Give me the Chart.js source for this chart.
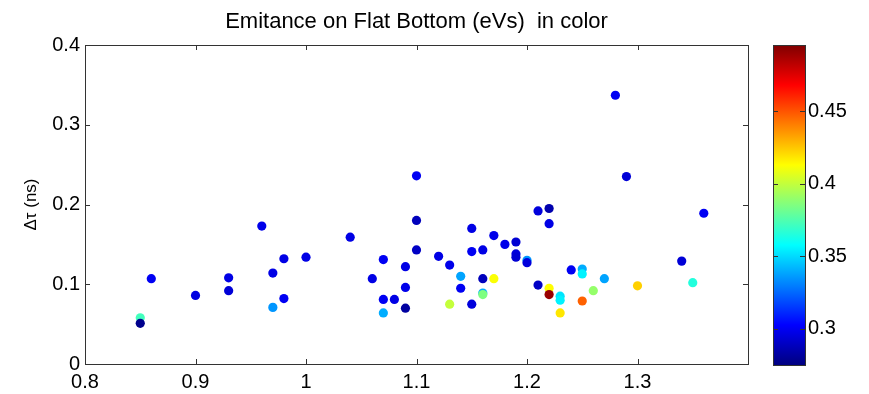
<!DOCTYPE html>
<html>
<head>
<meta charset="utf-8">
<script src="https://cdn.jsdelivr.net/npm/chart.js@4"></script>
<style>
  html, body { margin: 0; padding: 0; background: #fff; }
  #wrap { position: relative; width: 869px; height: 394px; }
  #wrap canvas { position: absolute; left: 0; top: 0; }
</style>
</head>
<body>
<div id="wrap">
  <canvas id="scatter" width="869" height="394"></canvas>
  <canvas id="cbar" width="869" height="394"></canvas>
</div>
<script>
// x position of each measurement
const xVals = [
  0.85, 0.85, 0.86, 0.90, 0.93, 0.93, 0.96, 0.97, 0.97, 0.98,
  0.98, 1.00, 1.04, 1.10, 1.10, 1.10, 1.07, 1.06, 1.09, 1.09,
  1.07, 1.08, 1.07, 1.09, 1.12, 1.13, 1.14, 1.14, 1.13, 1.15,
  1.15, 1.15, 1.16, 1.16, 1.16, 1.16, 1.17, 1.17, 1.18, 1.19,
  1.19, 1.19, 1.20, 1.20, 1.21, 1.21, 1.22, 1.22, 1.22, 1.22,
  1.23, 1.23, 1.23, 1.24, 1.25, 1.25, 1.25, 1.26, 1.27, 1.28,
  1.29, 1.30, 1.34, 1.35, 1.36
];
// delta tau (ns)
const dtau = [
  0.058, 0.051, 0.107, 0.086, 0.108, 0.092, 0.173, 0.114, 0.071, 0.132,
  0.082, 0.134, 0.159, 0.236, 0.180, 0.143, 0.131, 0.107, 0.122, 0.096,
  0.081, 0.081, 0.064, 0.070, 0.135, 0.124, 0.110, 0.095, 0.075, 0.170,
  0.141, 0.075, 0.143, 0.107, 0.089, 0.087, 0.107, 0.161, 0.150, 0.153,
  0.138, 0.134, 0.130, 0.127, 0.192, 0.099, 0.195, 0.176, 0.095, 0.087,
  0.085, 0.080, 0.064, 0.118, 0.119, 0.113, 0.079, 0.092, 0.107, 0.337,
  0.235, 0.098, 0.129, 0.102, 0.189
];
// emittance (eVs), shown as colour
const emittance = [
  0.372, 0.278, 0.300, 0.296, 0.297, 0.294, 0.298, 0.297, 0.335, 0.297,
  0.300, 0.297, 0.297, 0.300, 0.288, 0.290, 0.300, 0.297, 0.297, 0.298,
  0.300, 0.297, 0.340, 0.282, 0.297, 0.298, 0.338, 0.300, 0.400, 0.297,
  0.300, 0.295, 0.297, 0.288, 0.340, 0.385, 0.412, 0.298, 0.298, 0.293,
  0.295, 0.293, 0.335, 0.295, 0.295, 0.290, 0.285, 0.297, 0.413, 0.490,
  0.352, 0.355, 0.418, 0.300, 0.340, 0.355, 0.447, 0.390, 0.338, 0.300,
  0.294, 0.423, 0.294, 0.365, 0.300
];

const xTicks = [0.8, 0.9, 1, 1.1, 1.2, 1.3, 1.4];
const yTicks = [0, 0.1, 0.2, 0.3, 0.4];
const cbarTicks = [0.3, 0.35, 0.4, 0.45];
const cMin = 0.275;
const cMax = 0.4955;

const FONT = "'Liberation Sans', Arial, sans-serif";

const jet = (t) => {
  t = Math.min(1, Math.max(0, t));
  const c = (v) => Math.round(255 * Math.min(1, Math.max(0, v)));
  return 'rgb(' + c(1.5 - Math.abs(4 * t - 3)) + ',' + c(1.5 - Math.abs(4 * t - 2)) + ',' + c(1.5 - Math.abs(4 * t - 1)) + ')';
};
const colorOf = (e) => jet((e - cMin) / (cMax - cMin));

// matlab style box with inward ticks
const boxTicks = {
  id: 'boxTicks',
  afterDraw(chart) {
    const { ctx, chartArea: a, scales } = chart;
    const len = 5;
    ctx.save();
    ctx.strokeStyle = '#333';
    ctx.lineWidth = 1;
    ctx.strokeRect(Math.round(a.left) + 0.5, Math.round(a.top) + 0.5, Math.round(a.width), Math.round(a.height));
    ctx.beginPath();
    Object.values(scales).forEach((s) => {
      if (!s.options.display) return;
      s.ticks.forEach((t) => {
        const p = Math.round(s.getPixelForValue(t.value)) + 0.5;
        if (s.isHorizontal()) {
          ctx.moveTo(p, a.bottom); ctx.lineTo(p, a.bottom - len);
          ctx.moveTo(p, a.top); ctx.lineTo(p, a.top + len);
        } else {
          ctx.moveTo(a.left, p); ctx.lineTo(a.left + len, p);
          ctx.moveTo(a.right, p); ctx.lineTo(a.right - len, p);
        }
      });
    });
    ctx.stroke();
    ctx.restore();
  },
};

const points = xVals.map((x, i) => ({ x: x, y: dtau[i] }));
const colors = emittance.map(colorOf);

new Chart(document.getElementById('scatter'), {
  type: 'scatter',
  data: {
    datasets: [{
      data: points,
      backgroundColor: colors,
      borderColor: colors,
      borderWidth: 0,
      pointRadius: 4.6,
      pointHoverRadius: 4.6,
    }],
  },
  options: {
    responsive: false,
    animation: false,
    layout: { padding: { left: 0, right: 121, top: 0, bottom: 0 } },
    plugins: {
      legend: { display: false },
      tooltip: { enabled: false },
      title: {
        display: true,
        fullSize: false,
        text: 'Emitance on Flat Bottom (eVs)  in color',
        color: '#000',
        font: { family: FONT, size: 22, weight: 'normal', lineHeight: 1.2 },
        padding: { top: 9, bottom: 9.6 },
      },
    },
    scales: {
      x: {
        type: 'linear',
        min: 0.8,
        max: 1.4,
        afterBuildTicks: (s) => { s.ticks = xTicks.map((v) => ({ value: v })); },
        afterFit: (s) => { s.height = 30; },
        grid: { display: false, drawTicks: false },
        border: { display: false },
        ticks: {
          color: '#000',
          padding: 6,
          font: { family: FONT, size: 20 },
          callback: (v) => (v >= 1.39 ? '' : String(+v.toFixed(2))),
        },
      },
      y: {
        type: 'linear',
        min: 0,
        max: 0.4,
        afterBuildTicks: (s) => { s.ticks = yTicks.map((v) => ({ value: v })); },
        afterFit: (s) => { s.width = 85; },
        grid: { display: false, drawTicks: false },
        border: { display: false },
        ticks: {
          color: '#000',
          padding: 5,
          font: { family: FONT, size: 20 },
          callback: (v) => String(+v.toFixed(2)),
        },
        title: {
          display: true,
          text: 'Δτ (ns)',
          color: '#000',
          font: { family: FONT, size: 17 },
          padding: { top: 21, bottom: 0 },
        },
      },
    },
  },
  plugins: [boxTicks],
});

// colour bar
new Chart(document.getElementById('cbar'), {
  type: 'bar',
  data: {
    labels: ['emittance'],
    datasets: [{
      data: [[cMin, cMax]],
      borderWidth: 0,
      barPercentage: 1,
      categoryPercentage: 1,
      backgroundColor: (c) => {
        const a = c.chart.chartArea;
        if (!a) return '#00f';
        const g = c.chart.ctx.createLinearGradient(0, a.bottom, 0, a.top);
        for (let i = 0; i <= 64; i++) g.addColorStop(i / 64, jet(i / 64));
        return g;
      },
    }],
  },
  options: {
    responsive: false,
    animation: false,
    layout: { padding: { left: 773, right: 0, top: 45, bottom: 29 } },
    plugins: { legend: { display: false }, tooltip: { enabled: false } },
    scales: {
      x: { display: false },
      y: {
        position: 'right',
        min: cMin,
        max: cMax,
        afterBuildTicks: (s) => { s.ticks = cbarTicks.map((v) => ({ value: v })); },
        afterFit: (s) => { s.width = 64; },
        grid: { display: false, drawTicks: false },
        border: { display: false },
        ticks: {
          color: '#000',
          padding: 3,
          font: { family: FONT, size: 20 },
          callback: (v) => String(+v.toFixed(2)),
        },
      },
    },
  },
  plugins: [boxTicks],
});
</script>
</body>
</html>
